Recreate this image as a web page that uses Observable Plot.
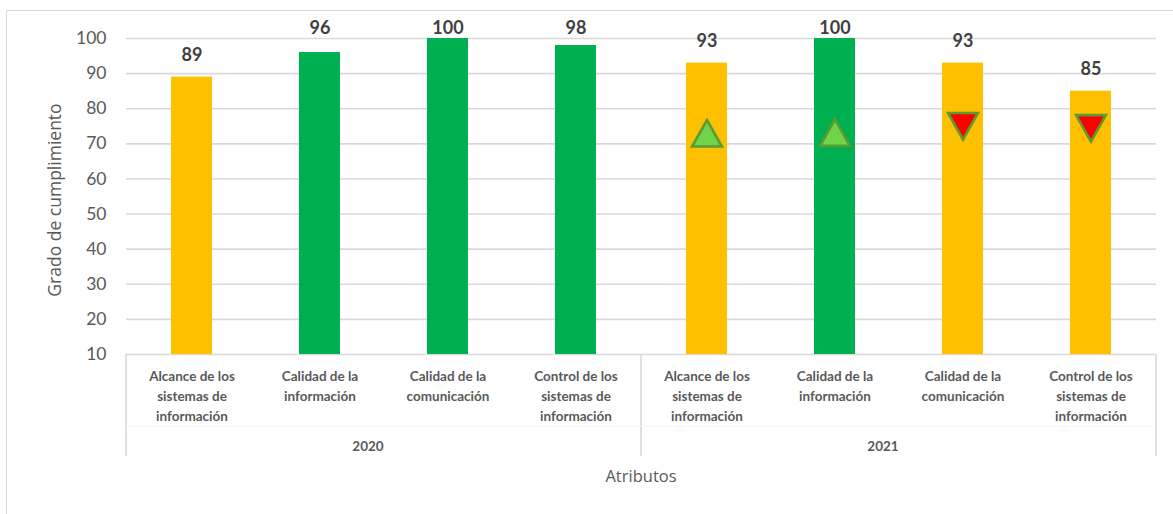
<!DOCTYPE html>
<html>
<head>
<meta charset="utf-8">
<script src="https://cdn.jsdelivr.net/npm/d3@7"></script>
<script src="https://cdn.jsdelivr.net/npm/@observablehq/plot@0.6"></script>
<style>
  html, body { margin: 0; padding: 0; background: #fff; overflow: hidden; }
  #wrap { position: relative; width: 1173px; height: 514px; overflow: hidden; }
  #border { position: absolute; left: 6px; top: 10px; width: 1250px; height: 600px; border: 1.5px solid #d9d9d9; box-sizing: border-box; }
  #chart { position: absolute; left: 0; top: 0; }
</style>
</head>
<body>
<div id="wrap"><div id="border"></div><div id="chart"></div></div>
<script>
const years = ["2020", "2021"];
const categories = [
  "Alcance de los\nsistemas de\ninformación",
  "Calidad de la\ninformación",
  "Calidad de la\ncomunicación",
  "Control de los\nsistemas de\ninformación"
];
const values2020 = [89, 96, 100, 98];
const values2021 = [93, 100, 93, 85];
const markers2021 = [73, 73.2, 75, 74.4];
const markerDir2021 = ["up", "up", "down", "down"];
const statusColors2020 = ["#FFC000", "#00B050", "#00B050", "#00B050"];
const statusColors2021 = ["#FFC000", "#00B050", "#FFC000", "#FFC000"];
const yTicks = [10, 20, 30, 40, 50, 60, 70, 80, 90, 100];

const bars = [];
categories.forEach((c, i) => bars.push({year: "2020", cat: c, value: values2020[i], color: statusColors2020[i]}));
categories.forEach((c, i) => bars.push({year: "2021", cat: c, value: values2021[i], color: statusColors2021[i]}));
const markers = categories.map((c, i) => ({year: "2021", cat: c, value: markers2021[i], dir: markerDir2021[i]}));

const upTri = {draw(ctx, size) { const s = Math.sqrt(size / Math.PI); ctx.moveTo(0, -1.15 * s); ctx.lineTo(1.3 * s, 1.15 * s); ctx.lineTo(-1.3 * s, 1.15 * s); ctx.closePath(); }};
const downTri = {draw(ctx, size) { const s = Math.sqrt(size / Math.PI); ctx.moveTo(0, 1.15 * s); ctx.lineTo(1.3 * s, -1.15 * s); ctx.lineTo(-1.3 * s, -1.15 * s); ctx.closePath(); }};

const yMin = yTicks[0], yMax = yTicks[yTicks.length - 1];
const font = "Lato, 'Open Sans', sans-serif";
const titleFont = "'Open Sans', Lato, sans-serif";

const plot = Plot.plot({
  width: 1173,
  height: 514,
  marginLeft: 126,
  marginRight: 17,
  marginTop: 38,
  marginBottom: 160,
  style: {fontFamily: font, background: "transparent"},
  fx: {domain: years, padding: 0, axis: null},
  x: {domain: categories, paddingInner: 0.68, paddingOuter: 0.34, axis: null},
  y: {domain: [yMin, yMax], axis: null},
  marks: [
    Plot.ruleY(yTicks, {y: d => d, stroke: "#d9d9d9", strokeWidth: 1.6}),
    Plot.barY(bars, {fx: "year", x: "cat", y1: yMin, y2: "value", fill: "color"}),
    Plot.dot(markers.filter(d => d.dir === "up"), {fx: "year", x: "cat", y: "value", r: 11.5, symbol: upTri, fill: "#70D44B", stroke: "#5A9B32", strokeWidth: 2.6}),
    Plot.dot(markers.filter(d => d.dir === "down"), {fx: "year", x: "cat", y: "value", r: 11.5, symbol: downTri, fill: "#FF0000", stroke: "#5A9B32", strokeWidth: 2.6}),
    // value labels
    Plot.text(bars.filter(d => d.value <= 95), {fx: "year", x: "cat", y: "value", text: d => String(d.value), dy: -22, fontSize: 18, fontWeight: "bold", fill: "#404040"}),
    Plot.text(bars.filter(d => d.value > 95), {fx: "year", x: "cat", frameAnchor: "top", lineAnchor: "middle", text: d => String(d.value), dy: -10, fontSize: 18, fontWeight: "bold", fill: "#404040"}),
    // category labels
    Plot.text(bars, {fx: "year", x: "cat", frameAnchor: "bottom", text: "cat", lineAnchor: "top", dy: 13, fontSize: 13.5, fontWeight: "bold", fill: "#595959", lineHeight: 1.45}),
    // year labels
    Plot.text(years, {fx: d => d, frameAnchor: "bottom", lineAnchor: "middle", text: d => d, dx: -16, dy: 92, fontSize: 13.5, fontWeight: "bold", fill: "#595959"}),
    // y tick labels
    Plot.text(yTicks, {fx: () => years[0], y: d => d, frameAnchor: "left", text: d => String(d), textAnchor: "end", dx: -20, fontSize: 17.5, fill: "#595959"})
  ]
});

// y label and x title
const svg = d3.select(plot);
svg.append("text").attr("transform", "translate(55,200) rotate(-90)").attr("text-anchor", "middle").attr("dy", "0.35em")
  .attr("font-size", 17.5).attr("fill", "#595959").attr("font-family", titleFont).text("Grado de cumplimiento");
svg.append("text").attr("x", 641).attr("y", 476).attr("text-anchor", "middle").attr("dy", "0.35em")
  .attr("font-size", 16.5).attr("fill", "#595959").attr("font-family", titleFont).text("Atributos");

// group separators using Plot's scales
const fxs = plot.scale("fx");
const ys = plot.scale("y");
const y0 = ys.apply(yMin);
const bounds = [fxs.apply(years[0]), fxs.apply(years[1]), fxs.apply(years[1]) + fxs.bandwidth];
bounds.forEach(b => {
  svg.append("line").attr("x1", b).attr("x2", b).attr("y1", y0).attr("y2", y0 + 102)
    .attr("stroke", "#d9d9d9").attr("stroke-width", 1.6);
});
svg.append("line").attr("x1", bounds[0]).attr("x2", bounds[2]).attr("y1", y0 + 72).attr("y2", y0 + 72)
  .attr("stroke", "#f6f6f6").attr("stroke-width", 1);

document.getElementById("chart").appendChild(plot);
</script>
</body>
</html>
